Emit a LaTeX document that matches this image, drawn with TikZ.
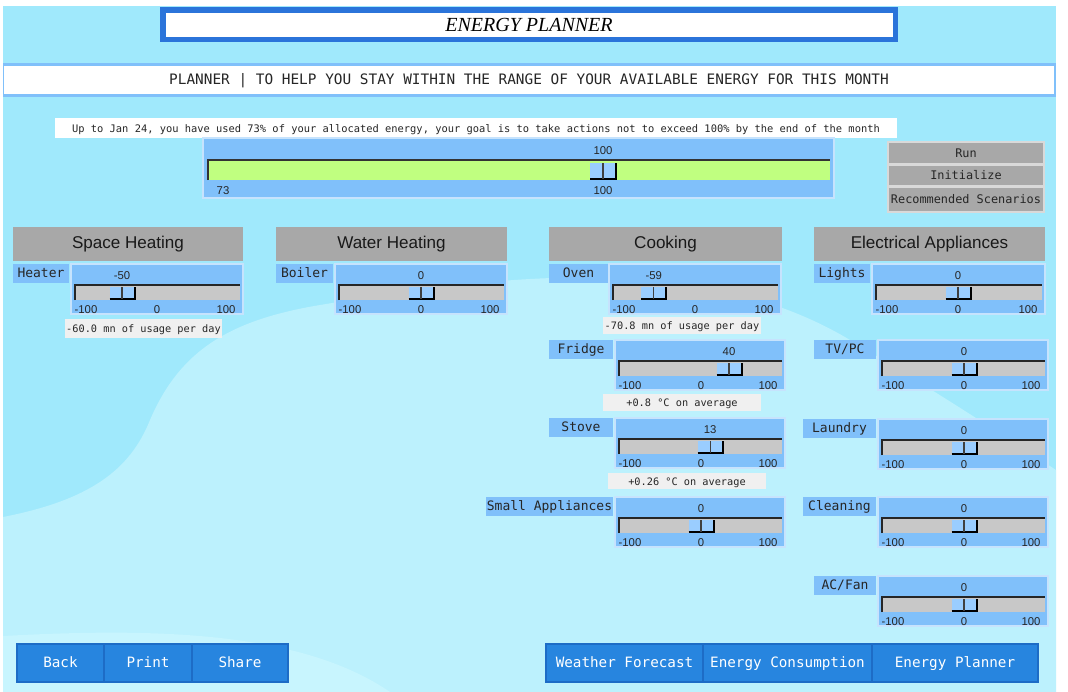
\documentclass[tikz,border=0pt]{standalone}
\usepackage{fontspec}
\setmainfont{Liberation Sans}
\newfontfamily\monofont{DejaVu Sans Mono}
\newfontfamily\titlefont{Liberation Serif}
\usepackage{xcolor}
\definecolor{skyback}{HTML}{A0E9FC}
\definecolor{skylight}{HTML}{BCF1FD}
\definecolor{skypale}{HTML}{C8F5FE}
\definecolor{panelblue}{HTML}{80C0FA}
\definecolor{titleblue}{HTML}{2B74DA}
\definecolor{headgray}{HTML}{A8A8A8}
\definecolor{trackgray}{HTML}{C8C8C8}
\definecolor{thumbblue}{HTML}{9ACDFF}
\definecolor{notegray}{HTML}{F0F0F0}
\definecolor{navblue}{HTML}{2785DF}
\definecolor{navedge}{HTML}{1D6CC6}
\definecolor{barlime}{HTML}{C0FF80}

\begin{document}
\begin{tikzpicture}[x=0.75pt, y=-0.75pt,
    mono/.style={font=\monofont\fontsize{#1}{#1}\selectfont, text=black!85, inner sep=0pt,
        text height=0.72em, text depth=0.05em},
    mono/.default=9.75,
    ticklabel/.style={font=\fontsize{8.5}{8.5}\selectfont, text=black!85, inner sep=0pt,
        text height=0.72em, text depth=0em},
    header/.style={font=\fontsize{12.8}{13}\selectfont, text=black!90, inner sep=0pt,
        text height=0.72em, text depth=0.05em},
    navtext/.style={font=\monofont\fontsize{10.7}{11}\selectfont, text=white, inner sep=0pt,
        text height=0.72em, text depth=0.05em}]
    \useasboundingbox (0,0) rectangle (1068,692);
    % background
    \fill[white] (0,0) rectangle (1068,692);
    \fill[skyback] (3,6) rectangle (1056,692);
    \fill[skylight] (3,517) .. controls (90,500) and (130,470) .. (150,420)
        .. controls (180,350) and (230,320) .. (320,305)
        .. controls (500,275) and (700,250) .. (850,340)
        .. controls (950,400) and (1010,440) .. (1056,470)
        -- (1056,692) -- (3,692) -- cycle;
    \fill[skypale] (3,636) .. controls (150,628) and (300,630) .. (390,692) -- (3,692) -- cycle;
    % title and subtitle
    \fill[titleblue] (160,7) rectangle (898,42);
    \fill[white] (166,13) rectangle (893,37);
    \node[font=\titlefont\itshape\fontsize{15}{15}\selectfont] (title) at (529,25) {ENERGY PLANNER};
    \fill[panelblue] (3,63) rectangle (1056,97);
    \fill[white] (4,66) rectangle (1054,94);
    \node[mono=10.8] (subtitle) at (529,80)
        {PLANNER | TO HELP YOU STAY WITHIN THE RANGE OF YOUR AVAILABLE ENERGY FOR THIS MONTH};
    \fill[white] (55,118) rectangle (897,138);
    \node[mono=7.8] (info) at (476,128)
        {Up to Jan 24, you have used 73\% of your allocated energy, your goal is to take actions not to exceed 100\% by the end of the month};
    % main energy slider
    \draw[fill=panelblue, draw=white!55!panelblue, line width=1] (203,138) rectangle (834,198);
    \fill[barlime] (207,159) rectangle (830,180);
    \draw[black!80, line width=1.5] (207.7,180) -- (207.7,159.7) -- (830,159.7);
    \fill[thumbblue] (590,163) rectangle (616,179);
    \draw[black, line width=1.5] (590,179) -- (616,179) -- (616,163);
    \draw[black!75, line width=0.8] (603,163) -- (603,179);
    \node[ticklabel] (goaltop) at (603,150) {100};
    \node[ticklabel] (used) at (223,190) {73};
    \node[ticklabel] (goalbot) at (603,190) {100};
    % action buttons
    \foreach \yt/\yb/\txt [count=\i] in {142/164/Run, 165/186/Initialize, 187/212/Recommended Scenarios}
    {
        \draw[fill=headgray, draw=white!70!gray, line width=1] (888,\yt) rectangle (1044,\yb);
        \node[mono=8.9] (btn\i) at (966,{(\yt+\yb)/2}) {\txt};
    }
    % category headers
    \foreach \xl/\xr/\txt [count=\i] in {13/243/Space Heating, 276/507/Water Heating, 549/782/Cooking, 814/1045/Electrical Appliances}
    {
        \fill[headgray] (\xl,227) rectangle (\xr,261);
        \node[header] (head\i) at ({(\xl+\xr)/2},244) {\txt};
    }
    % sliders
    \foreach \lx/\lw/\px/\py/\pw/\val/\lab [count=\i] in {
        13/56/71/264/172/-50/Heater,
        276/57/335/264/172/0/Boiler,
        549/59/609/264/172/-59/Oven,
        549/64/615/340/170/40/Fridge,
        549/64/615/418/170/13/Stove,
        486/127/615/497/170/0/Small Appliances,
        814/56/872/264/173/0/Lights,
        814/62/878/340/170/0/{TV/PC},
        803/73/878/419/170/0/Laundry,
        803/73/878/497/170/0/Cleaning,
        814/62/878/576/170/0/{AC/Fan}}
    {
        \pgfmathsetmacro\thumb{\px+86+0.7*\val}
        \fill[panelblue] (\lx,\py) rectangle (\lx+\lw,\py+19);
        \node[mono] (lab\i) at (\lx+\lw/2,\py+9.5) {\lab};
        \draw[fill=panelblue, draw=white!55!panelblue, line width=1] (\px,\py) rectangle (\px+\pw,\py+50);
        \fill[trackgray] (\px+3,\py+20) rectangle (\px+\pw-3,\py+36);
        \draw[black!85, line width=1.5] (\px+3.7,\py+36) -- (\px+3.7,\py+20.7) -- (\px+\pw-3,\py+20.7);
        \fill[thumbblue] (\thumb-12.5,\py+23) rectangle (\thumb+12.5,\py+35);
        \draw[black, line width=1.5] (\thumb-12.5,\py+35) -- (\thumb+12.5,\py+35) -- (\thumb+12.5,\py+23);
        \draw[black!75, line width=0.8] (\thumb,\py+23) -- (\thumb,\py+35);
        \node[ticklabel] (val\i) at (\thumb,\py+11) {\val};
        \node[ticklabel] (min\i) at (\px+15,\py+44.5) {-100};
        \node[ticklabel] (mid\i) at (\px+86,\py+44.5) {0};
        \node[ticklabel] (max\i) at (\px+\pw-17,\py+44.5) {100};
    }
    % notes under sliders
    \foreach \xl/\xr/\yt/\yb/\txt [count=\i] in {
        65/222/319/338/{-60.0 mn of usage per day},
        603/761/317/334/{-70.8 mn of usage per day},
        603/761/394/411/{+0.8 °C on average},
        608/766/473/489/{+0.26 °C on average}}
    {
        \fill[notegray] (\xl,\yt) rectangle (\xr,\yb);
        \node[mono=7.7] (note\i) at ({(\xl+\xr)/2},{(\yt+\yb)/2}) {\txt};
    }
    % navigation
    \foreach \xl/\xr/\txt [count=\i] in {17/104/Back, 104/192/Print, 192/288/Share,
        546/703/Weather Forecast, 703/872/Energy Consumption, 872/1038/Energy Planner}
    {
        \draw[fill=navblue, draw=navedge, line width=1.2] (\xl,644) rectangle (\xr,682);
        \node[navtext] (nav\i) at ({(\xl+\xr)/2},663) {\txt};
    }
\end{tikzpicture}
\end{document}
